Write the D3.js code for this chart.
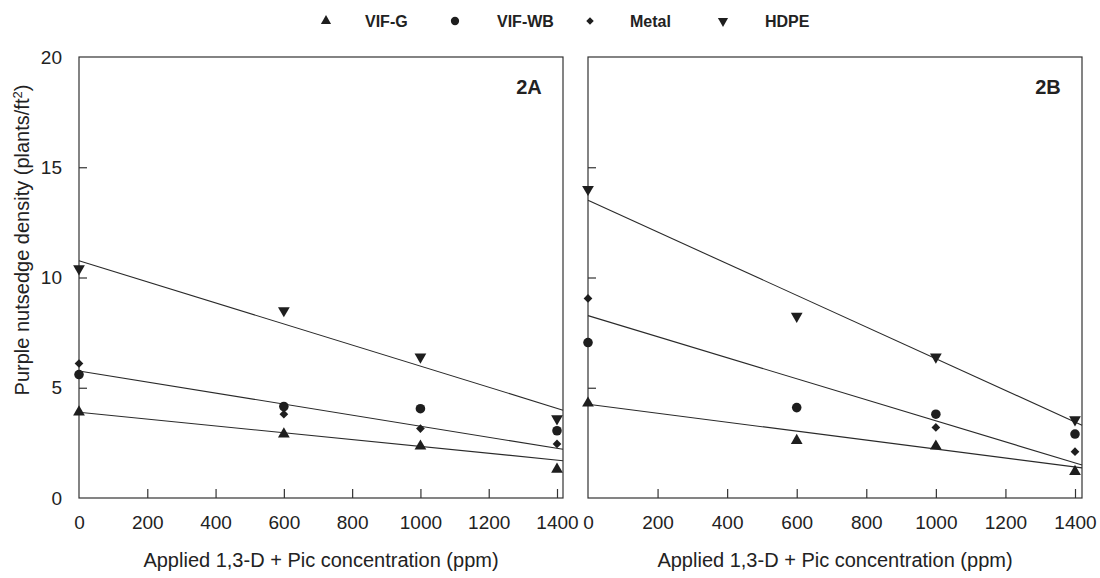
<!DOCTYPE html>
<html>
<head>
<meta charset="utf-8">
<script src="https://cdn.jsdelivr.net/npm/d3@7"></script>
<style>
  html, body { margin: 0; padding: 0; background: #fff; }
  svg { display: block; font-family: "Liberation Sans", Arial, sans-serif; }
</style>
</head>
<body>
<svg id="chart" width="1100" height="578"></svg>
<script>
// ---------- data ----------
const concentrations = [0, 600, 1000, 1400];
const xTickValues = [0, 200, 400, 600, 800, 1000, 1200, 1400];
const yTickValues = [0, 5, 10, 15, 20];
const seriesNames = ["VIF-G", "VIF-WB", "Metal", "HDPE"];

// Panel 2A
const vifG_A  = [3.9, 2.9, 2.35, 1.3];
const vifWB_A = [5.6, 4.15, 4.05, 3.05];
const metal_A = [6.1, 3.8, 3.15, 2.45];
const hdpe_A  = [10.4, 8.5, 6.4, 3.6];
// Panel 2B
const vifG_B  = [4.3, 2.6, 2.35, 1.2];
const vifWB_B = [7.05, 4.1, 3.8, 2.9];
const metal_B = [9.05, 4.1, 3.2, 2.1];
const hdpe_B  = [14.0, 8.25, 6.4, 3.55];

// Regression lines: [intercept, slope]
const fitA = [[10.76, -0.00478], [5.76, -0.002505], [3.89, -0.00155]];
const fitB = [[13.5, -0.00718], [8.27, -0.00477], [4.25, -0.00203]];

// ---------- drawing ----------
const svg = d3.select("#chart");
const ink = "#1e1e1e";

const symbolFor = {
  "VIF-G": d3.symbolTriangle,
  "VIF-WB": d3.symbolCircle,
  "Metal": d3.symbolSquare,
  "HDPE": d3.symbolTriangle
};
const sizeFor = { "VIF-G": 60, "VIF-WB": 72, "Metal": 38, "HDPE": 60 };
const rotFor = { "VIF-G": 0, "VIF-WB": 0, "Metal": 45, "HDPE": 180 };

function marker(g, name, x, y, scale) {
  const s = scale || 1;
  g.append("path")
    .attr("d", d3.symbol().type(symbolFor[name]).size(sizeFor[name] * s)())
    .attr("transform", `translate(${x},${y}) rotate(${rotFor[name]})`)
    .attr("fill", ink);
}

const y = d3.scaleLinear().domain([0, 20]).range([498, 57]);

const panels = [
  { label: "2A", left: 79, right: 563, xmaxPx: 557, series: [vifG_A, vifWB_A, metal_A, hdpe_A], fits: fitA, yLabels: true },
  { label: "2B", left: 588, right: 1082, xmaxPx: 1075, series: [vifG_B, vifWB_B, metal_B, hdpe_B], fits: fitB, yLabels: false }
];

panels.forEach(p => {
  const x = d3.scaleLinear().domain([0, 1400]).range([p.left, p.xmaxPx]);
  const xEnd = x.invert(p.right);
  const g = svg.append("g");

  // frame
  g.append("rect")
    .attr("x", p.left).attr("y", y(20))
    .attr("width", p.right - p.left).attr("height", y(0) - y(20))
    .attr("fill", "none").attr("stroke", "#333").attr("stroke-width", 1.2);

  // x axis ticks (inward) and labels
  const xAxis = d3.axisBottom(x).tickValues(xTickValues).tickSizeInner(-9).tickSizeOuter(0).tickPadding(18).tickFormat(d3.format("d"));
  const xg = g.append("g").attr("transform", `translate(0,${y(0)})`).call(xAxis);
  xg.select(".domain").remove();
  xg.selectAll(".tick line").attr("stroke", "#333").attr("stroke-width", 1.2)
    .filter(d => d === 0).remove();
  xg.selectAll(".tick text").attr("font-size", 19).attr("fill", "#222")
    .attr("font-family", "'Liberation Sans', Arial, sans-serif");

  // y axis ticks (inward) and labels
  const yAxis = d3.axisLeft(y).tickValues(yTickValues).tickSizeInner(-8).tickSizeOuter(0).tickPadding(17);
  const yg = g.append("g").attr("transform", `translate(${p.left},0)`).call(yAxis);
  yg.select(".domain").remove();
  yg.selectAll(".tick line").attr("stroke", "#333").attr("stroke-width", 1.2)
    .filter(d => d === 0 || d === 20).remove();
  if (p.yLabels) {
    yg.selectAll(".tick text").attr("font-size", 19).attr("fill", "#222")
      .attr("font-family", "'Liberation Sans', Arial, sans-serif");
  } else {
    yg.selectAll(".tick text").remove();
  }

  // regression lines
  const line = d3.line().x(d => x(d[0])).y(d => y(d[1]));
  p.fits.forEach(f => {
    g.append("path")
      .attr("d", line([[0, f[0]], [xEnd, f[0] + f[1] * xEnd]]))
      .attr("fill", "none").attr("stroke", "#2a2a2a").attr("stroke-width", 1.1);
  });

  // markers
  p.series.forEach((vals, i) => {
    const name = seriesNames[i];
    vals.forEach((v, j) => marker(g, name, x(concentrations[j]), y(v)));
  });

  // panel label
  g.append("text")
    .attr("x", p.right - 34).attr("y", 94)
    .attr("text-anchor", "middle")
    .attr("font-size", 20).attr("font-weight", "bold").attr("fill", "#222")
    .text(p.label);

  // x title
  g.append("text")
    .attr("x", (p.left + p.right) / 2).attr("y", 567)
    .attr("text-anchor", "middle")
    .attr("font-size", 20).attr("fill", "#222")
    .text("Applied 1,3-D + Pic concentration (ppm)");
});

// y title
svg.append("text")
  .attr("transform", "translate(29,240) rotate(-90)")
  .attr("text-anchor", "middle")
  .attr("font-size", 20).attr("fill", "#222")
  .text("Purple nutsedge density (plants/ft")
  .append("tspan").attr("dy", -7).attr("font-size", 13).text("2")
  .select(function () { return this.parentNode; })
  .append("tspan").attr("dy", 7).text(")");

// legend
const legendMarkerX = [326, 455, 590, 723];
const legendTextX = [365, 497, 630, 765];
seriesNames.forEach((name, i) => {
  marker(svg, name, legendMarkerX[i], 21, 0.75);
  svg.append("text")
    .attr("x", legendTextX[i]).attr("y", 27)
    .attr("font-size", 16).attr("font-weight", "bold").attr("fill", "#222")
    .text(name);
});
</script>
</body>
</html>
